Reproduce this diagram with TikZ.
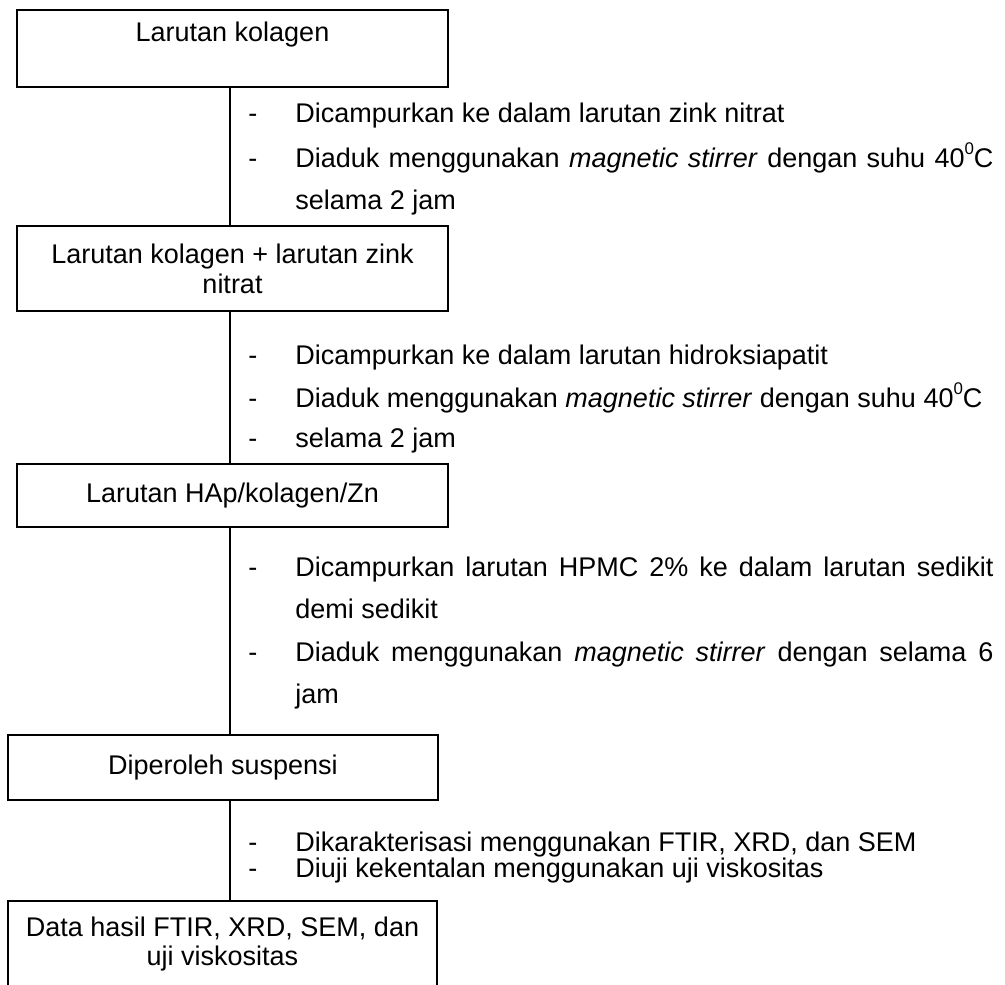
\documentclass[tikz,border=0pt]{standalone}
\usepackage{fontspec}
\setmainfont{Liberation Sans}
\usetikzlibrary{positioning}

\newcommand{\bulletdash}{\makebox[1.175cm][l]{-}}
\newcommand{\fullline}[1]{\makebox[17.45cm][s]{#1}}
\newcommand{\degsup}{\raisebox{0.45em}{\fontsize{12pt}{12pt}\selectfont 0}}

\begin{document}
\begin{tikzpicture}[x=0.025cm, y=-0.025cm,
    font=\fontsize{19.2pt}{21.3pt}\selectfont,
    stepbox/.style={draw, line width=1.3pt, align=center, inner sep=0pt},
    note/.style={anchor=base west, inner sep=0pt}]
  \clip (0,0) rectangle (1005,985);
  \coordinate (spine) at (230,0);

  % boxes
  \node[draw, line width=1.3pt, inner sep=0pt, text height=0.5cm, text depth=0.825cm,
        minimum width=10.775cm, minimum height=1.925cm] (kolagen) at (232.5,48.5) {Larutan kolagen};
  \node[stepbox, minimum width=10.775cm, minimum height=2.125cm] (zink) at (232.5,268.5) {Larutan kolagen + larutan zink\\ nitrat};
  \node[stepbox, minimum width=10.775cm, minimum height=1.575cm] (hap) at (232.5,495.5) {Larutan HAp/kolagen/Zn};
  \node[stepbox, minimum width=10.75cm, minimum height=1.625cm] (suspensi) at (223,767.5) {Diperoleh suspensi};
  \node[stepbox, minimum width=10.725cm, minimum height=2.15cm] (data) at (222.5,944) {Data hasil FTIR, XRD, SEM, dan\\ uji viskositas};

  \foreach \a/\b in {kolagen/zink, zink/hap, hap/suspensi, suspensi/data}
    \draw[line width=1.3pt] (\a.south -| spine) -- (\b.north -| spine);

  % steps
  \node[note] (z1) at (248,123) {\bulletdash Dicampurkan ke dalam larutan zink nitrat};
  \node[note] (z2) at (248,167) {\bulletdash\fullline{Diaduk menggunakan \textit{magnetic stirrer} dengan suhu 40\degsup C}};
  \node[note] (z3) at (295,209) {selama 2 jam};

  \node[note] (h1) at (248,364) {\bulletdash Dicampurkan ke dalam larutan hidroksiapatit};
  \node[note] (h2) at (248,407) {\bulletdash Diaduk menggunakan \textit{magnetic stirrer} dengan suhu 40\degsup C};
  \node[note] (h3) at (248,447) {\bulletdash selama 2 jam};

  \node[note] (p1) at (248,576) {\bulletdash\fullline{Dicampurkan larutan HPMC 2\% ke dalam larutan sedikit}};
  \node[note] (p2) at (295,618) {demi sedikit};
  \node[note] (p3) at (248,661) {\bulletdash\fullline{Diaduk menggunakan \textit{magnetic stirrer} dengan selama 6}};
  \node[note] (p4) at (295,703) {jam};

  \node[note] (d1) at (248,851) {\bulletdash Dikarakterisasi menggunakan FTIR, XRD, dan SEM};
  \node[note] (d2) at (248,877) {\bulletdash Diuji kekentalan menggunakan uji viskositas};
\end{tikzpicture}
\end{document}
